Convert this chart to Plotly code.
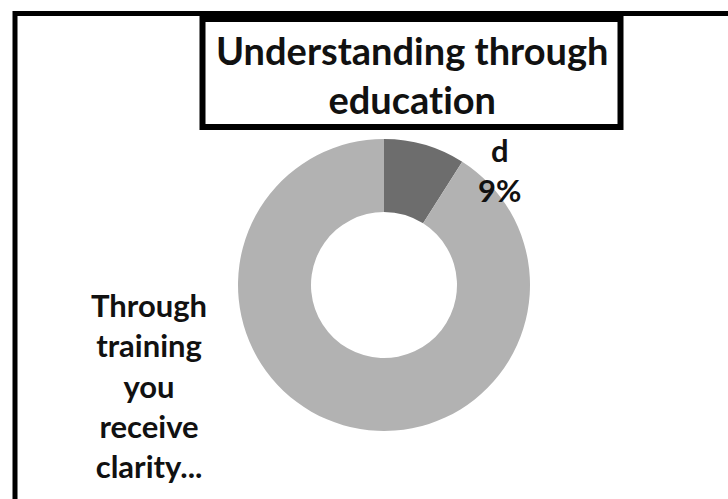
import plotly.graph_objects as go

# ---- data ----
categories = ["d", "Through training you receive clarity..."]
values = [9, 91]
label_lines = [["d"], ["Through", "training", "you", "receive", "clarity..."]]
colors = ["#6d6d6d", "#b2b2b2"]
title_lines = ["Understanding through", "education"]

W, H = 728, 499

def px(x):
    return x / W

def py(y):
    return 1 - y / H

fig = go.Figure()
fig.add_trace(go.Pie(
    labels=categories,
    values=values,
    hole=0.5,
    sort=False,
    direction="clockwise",
    rotation=0,
    marker=dict(colors=colors, line=dict(width=0)),
    textinfo="none",
    hoverinfo="label+percent",
    showlegend=False,
    domain=dict(x=[px(238), px(530)], y=[py(432), py(138)]),
))

total = sum(values)
pcts = [round(v / total * 100) for v in values]

FONT = "Lato, 'Liberation Sans', sans-serif"

# label for first slice: name + percentage
d_text = "<b>" + "<br>".join(label_lines[0] + [f"{pcts[0]}%"]) + "</b>"
fig.add_annotation(x=px(499), y=py(170), xref="paper", yref="paper",
                   text=d_text, showarrow=False,
                   font=dict(family=FONT, size=31, color="#111111"),
                   xanchor="center", yanchor="middle", align="center")

# label for second slice
t_text = "<b>" + "<br>".join(label_lines[1]) + "</b>"
fig.add_annotation(x=px(149), y=py(385), xref="paper", yref="paper",
                   text=t_text, showarrow=False,
                   font=dict(family=FONT, size=31, color="#111111"),
                   xanchor="center", yanchor="middle", align="center")

# title
fig.add_annotation(x=px(412), y=py(74), xref="paper", yref="paper",
                   text="<b>" + "<br>".join(title_lines) + "</b>", showarrow=False,
                   font=dict(family=FONT, size=38, color="#111111"),
                   xanchor="center", yanchor="middle", align="center")

shapes = [
    # outer chart frame
    dict(type="rect", xref="paper", yref="paper",
         x0=px(15), y0=py(13.5), x1=1.1, y1=-0.1,
         line=dict(color="black", width=5), fillcolor="rgba(0,0,0,0)"),
    # title box
    dict(type="rect", xref="paper", yref="paper",
         x0=px(202.5), y0=py(19), x1=px(620.5), y1=py(127),
         line=dict(color="black", width=6), fillcolor="rgba(0,0,0,0)"),
]

fig.update_layout(
    width=W, height=H,
    margin=dict(l=0, r=0, t=0, b=0),
    paper_bgcolor="white",
    plot_bgcolor="white",
    shapes=shapes,
)

fig.write_html(
    "out.html",
    config={"displayModeBar": False},
    post_script=(
        "document.body.style.margin='0';document.body.style.overflow='hidden';"
        "document.querySelectorAll('text').forEach(function(t){t.style.fontVariantLigatures='none';});"
    ),
)
